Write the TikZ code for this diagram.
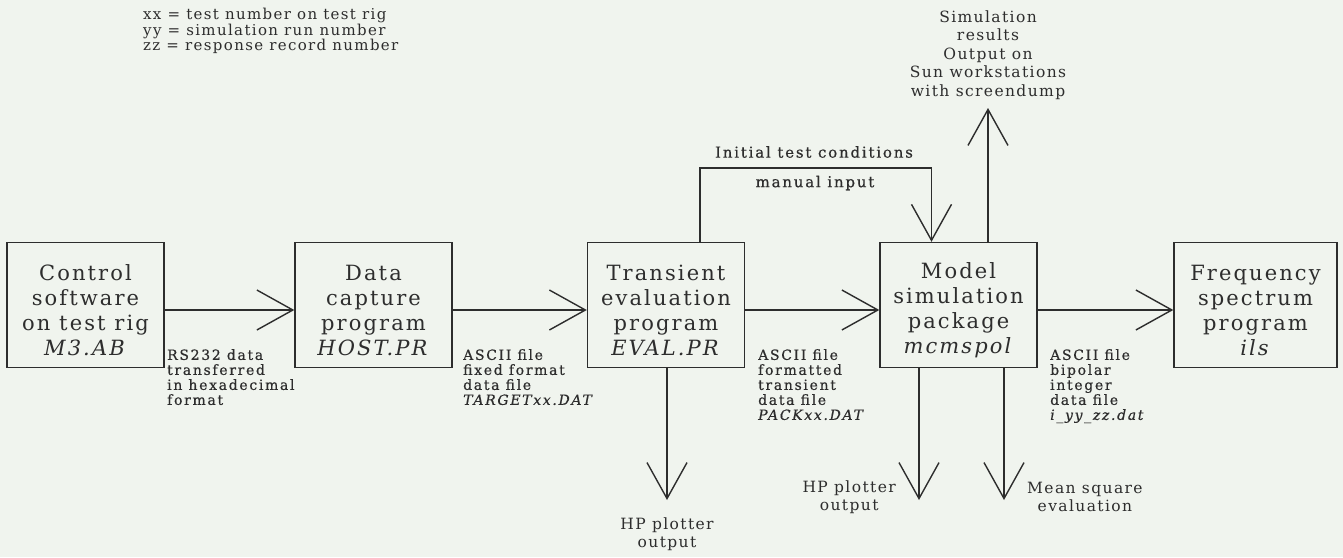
\documentclass[tikz,border=0pt]{standalone}
\usepackage{fontspec}
\setmainfont{DejaVu Serif}
\newfontfamily\boxfont[LetterSpace=10]{DejaVu Serif}
\newfontfamily\lblfont[LetterSpace=12,FakeBold=0.6]{DejaVu Serif}
\newfontfamily\legfont[LetterSpace=9]{DejaVu Serif}
\usetikzlibrary{arrows.meta}
\definecolor{bgc}{RGB}{240,244,238}
\definecolor{ink}{RGB}{45,45,45}
\begin{document}
\begin{tikzpicture}[x=1pt,y=-1pt,
  ink/.style={draw=ink,line width=1.4pt},
  box/.style={ink,rectangle,minimum width=157pt,minimum height=125pt,inner sep=0pt},
  boxtxt/.style={text=ink,align=center,inner sep=0pt,font=\boxfont\fontsize{21}{25}\selectfont},
  lbl/.style={text=ink,align=left,inner sep=0pt,anchor=north west,font=\lblfont\fontsize{14}{15}\selectfont},
  note/.style={text=ink,align=center,inner sep=0pt,font=\legfont\fontsize{15.5}{18.5}\selectfont},
  arr/.style={ink,-{Straight Barb[length=36pt,width=40pt,line width=1.4pt]}}]
\useasboundingbox (0,0) rectangle (1343,557);
\fill[bgc] (0,0) rectangle (1343,557);

% legend
\node[text=ink,align=left,inner sep=0pt,anchor=north west,font=\legfont\fontsize{15}{15.5}\selectfont] (legend) at (143,8)
  {xx = test number on test rig\\yy = simulation run number\\zz = response record number};

% boxes
\node[box] (b1) at (85.5,305) {};
\node[box] (b2) at (373.5,305) {};
\node[box] (b3) at (666,305) {};
\node[box] (b4) at (958.5,305) {};
\node[box,minimum width=163pt] (b5) at (1255.5,305) {};

\node[boxtxt] (t1) at (85.5,310) {Control\\software\\on test rig\\\textit{M3.AB}};
\node[boxtxt] (t2) at (373.5,310) {Data\\capture\\program\\\textit{HOST.PR}};
\node[boxtxt] (t3) at (666,310) {Transient\\evaluation\\program\\\textit{EVAL.PR}};
\node[boxtxt] (t4) at (958.5,310) {Model\\simulation\\package\\\textit{mcmspol}};
\node[boxtxt] (t5) at (1255.5,310) {Frequency\\spectrum\\program\\\textit{ils}};

% horizontal connectors
\draw[arr] ([yshift=-5pt]b1.east) -- ([yshift=-5pt]b2.west);
\draw[arr] ([yshift=-5pt]b2.east) -- ([yshift=-5pt]b3.west);
\draw[arr] ([yshift=-5pt]b3.east) -- ([yshift=-5pt]b4.west);
\draw[arr] ([yshift=-5pt]b4.east) -- ([yshift=-5pt]b5.west);

% labels under connectors
\node[lbl] (l1) at (167,349) {RS232 data\\transferred\\in hexadecimal\\format};
\node[lbl] (l2) at (463,349) {ASCII file\\fixed format\\data file\\\textit{TARGETxx.DAT}};
\node[lbl] (l3) at (758,349) {ASCII file\\formatted\\transient\\data file\\\textit{PACKxx.DAT}};
\node[lbl] (l4) at (1050,349) {ASCII file\\bipolar\\integer\\data file\\\textit{i\_yy\_zz.dat}};

% feedback: initial test conditions
\draw[arr] ([xshift=34pt]b3.north) -- ++(0,-74) -| ([xshift=-27pt]b4.north);
\node[text=ink,inner sep=0pt,font=\lblfont\fontsize{15}{16}\selectfont] (ic) at (814,152) {Initial test conditions};
\node[text=ink,inner sep=0pt,font=\lblfont\fontsize{15}{16}\selectfont] (mi) at (815,183) {manual input};

% simulation results (upward)
\node[note] (sim) at (988,55) {Simulation\\results\\Output on\\Sun workstations\\with screendump};
\coordinate (uptip) at (988,108);
\draw[arr] (b4.north -| uptip) -- (uptip);

% downward outputs
\coordinate (d3) at (667,500);
\coordinate (d4a) at (919,500);
\coordinate (d4b) at (1004,500);
\draw[arr] (b3.south -| d3) -- (d3);
\draw[arr] (b4.south -| d4a) -- (d4a);
\draw[arr] (b4.south -| d4b) -- (d4b);

\node[note] (hp1) at (667,534) {HP plotter\\output};
\node[note,anchor=east] (hp2) at (896,497) {HP plotter\\output};
\node[note,anchor=west] (ms) at (1027,497) {Mean square\\evaluation};
\end{tikzpicture}
\end{document}
